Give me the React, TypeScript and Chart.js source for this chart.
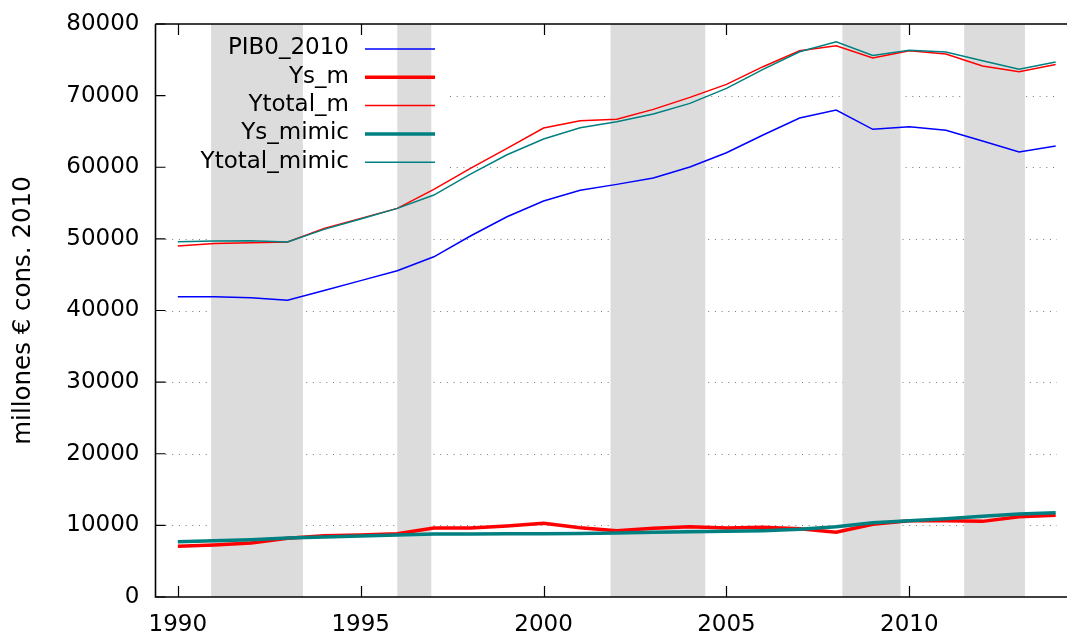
import React, { useEffect, useRef } from "react";
import { Chart, registerables } from "chart.js";

Chart.register(...registerables);

const years = [1990, 1991, 1992, 1993, 1994, 1995, 1996, 1997, 1998, 1999, 2000, 2001, 2002, 2003, 2004, 2005, 2006, 2007, 2008, 2009, 2010, 2011, 2012, 2013, 2014];

const pib0_2010 = [41920, 41920, 41780, 41420, 42800, 44170, 45550, 47500, 50400, 53090, 55280, 56780, 57610, 58490, 60030, 62030, 64500, 66870, 67990, 65290, 65660, 65150, 63660, 62120, 62960];
const ys_m = [7070, 7260, 7540, 8190, 8560, 8650, 8840, 9630, 9630, 9910, 10280, 9680, 9260, 9590, 9820, 9630, 9730, 9540, 9030, 10150, 10650, 10650, 10560, 11210, 11400];
const ytotal_m = [49000, 49370, 49460, 49560, 51470, 52860, 54260, 56920, 59850, 62640, 65470, 66490, 66690, 68080, 69760, 71570, 74040, 76270, 76960, 75250, 76270, 75800, 74130, 73340, 74360];
const ys_mimic = [7720, 7860, 8000, 8240, 8380, 8520, 8650, 8790, 8800, 8820, 8840, 8870, 8930, 9030, 9120, 9170, 9260, 9450, 9820, 10380, 10650, 10930, 11260, 11590, 11770];
const ytotal_mimic = [49600, 49700, 49740, 49560, 51330, 52770, 54260, 56120, 59050, 61750, 63940, 65520, 66360, 67430, 68920, 71010, 73670, 76130, 77520, 75620, 76320, 76080, 74870, 73670, 74690];

const seriesLabels = ["PIB0_2010", "Ys_m", "Ytotal_m", "Ys_mimic", "Ytotal_mimic"];

const shadeStart = [1990.91, 1996.0, 2001.83, 2008.17, 2011.5];
const shadeEnd = [1993.42, 1996.93, 2004.42, 2009.76, 2013.16];

const xTicks = [1990, 1995, 2000, 2005, 2010];
const yTicks = [0, 10000, 20000, 30000, 40000, 50000, 60000, 70000, 80000];

const FONT = "'DejaVu Sans', sans-serif";

const toPts = (vals: number[]) => vals.map((v, i) => ({ x: years[i], y: v }));

const gnuplotPlugin = {
  id: "gnuplotDecor",
  beforeDatasetsDraw(chart: any) {
    const { ctx, chartArea } = chart;
    const xs = chart.scales.x;
    const ys = chart.scales.y;
    ctx.save();
    // dotted grid
    ctx.strokeStyle = "#7a7a7a";
    ctx.lineWidth = 1;
    ctx.setLineDash([1, 5.7]);
    yTicks.forEach((t) => {
      if (t === 0 || t === 80000) return;
      const y = Math.round(ys.getPixelForValue(t)) + 0.5;
      let x0 = chartArea.left + 10;
      if (y < 185) x0 = 450;
      ctx.beginPath();
      ctx.moveTo(x0, y);
      ctx.lineTo(chartArea.right - 10, y);
      ctx.stroke();
    });
    ctx.setLineDash([]);
    // shaded regions
    ctx.fillStyle = "#dcdcdc";
    shadeStart.forEach((s, i) => {
      const x0 = xs.getPixelForValue(s);
      const x1 = xs.getPixelForValue(shadeEnd[i]);
      ctx.fillRect(x0, chartArea.top, x1 - x0, chartArea.bottom - chartArea.top);
    });
    ctx.restore();
  },
  afterDatasetsDraw(chart: any) {
    const { ctx, chartArea } = chart;
    const xs = chart.scales.x;
    const ys = chart.scales.y;
    ctx.save();
    ctx.strokeStyle = "#000";
    ctx.lineWidth = 1.6;
    ctx.beginPath();
    ctx.moveTo(chartArea.left, chartArea.top);
    ctx.lineTo(chartArea.left, chartArea.bottom);
    ctx.lineTo(chartArea.right, chartArea.bottom);
    ctx.moveTo(chartArea.left, chartArea.top);
    ctx.lineTo(chartArea.right, chartArea.top);
    ctx.stroke();
    ctx.lineWidth = 1.2;
    ctx.beginPath();
    yTicks.forEach((t) => {
      const y = ys.getPixelForValue(t);
      ctx.moveTo(chartArea.left, y);
      ctx.lineTo(chartArea.left + 10, y);
    });
    xTicks.forEach((t) => {
      const x = Math.round(xs.getPixelForValue(t)) + 0.5;
      ctx.moveTo(x, chartArea.bottom);
      ctx.lineTo(x, chartArea.bottom - 11);
      ctx.moveTo(x, chartArea.top);
      ctx.lineTo(x, chartArea.top + 11);
    });
    ctx.stroke();
    // legend
    ctx.font = `23px ${FONT}`;
    ctx.textAlign = "right";
    ctx.textBaseline = "middle";
    chart.data.datasets.forEach((ds: any, i: number) => {
      const y = 48.5 + i * 28.3;
      ctx.fillStyle = "#000";
      ctx.fillText(ds.label, 349, y);
      ctx.strokeStyle = ds.borderColor;
      ctx.lineWidth = ds.borderWidth;
      ctx.beginPath();
      ctx.moveTo(365, y + 0.5);
      ctx.lineTo(435, y + 0.5);
      ctx.stroke();
    });
    ctx.restore();
  },
};

export default function App() {
  const ref = useRef<HTMLCanvasElement | null>(null);
  useEffect(() => {
    if (!ref.current) return;
    const chart = new Chart(ref.current, {
      type: "line",
      data: {
        datasets: [
          { label: seriesLabels[0], data: toPts(pib0_2010), borderColor: "#0000ff", borderWidth: 1.5, order: 4 },
          { label: seriesLabels[1], data: toPts(ys_m), borderColor: "#ff0000", borderWidth: 3.5, order: 3 },
          { label: seriesLabels[2], data: toPts(ytotal_m), borderColor: "#ff0000", borderWidth: 1.5, order: 2 },
          { label: seriesLabels[3], data: toPts(ys_mimic), borderColor: "#008080", borderWidth: 3.5, order: 1 },
          { label: seriesLabels[4], data: toPts(ytotal_mimic), borderColor: "#008080", borderWidth: 1.5, order: 0 },
        ].map((d) => ({ ...d, pointRadius: 0, tension: 0, fill: false })),
      },
      options: {
        animation: false,
        responsive: false,
        devicePixelRatio: 1,
        layout: { padding: { top: 24, right: 0, left: 0, bottom: 0 } },
        plugins: { legend: { display: false }, tooltip: { enabled: false } },
        scales: {
          x: {
            type: "linear",
            min: 1989.39,
            max: 2014.31,
            grid: { display: false, drawTicks: false },
            border: { display: false },
            afterBuildTicks: (s: any) => {
              s.ticks = xTicks.map((v) => ({ value: v }));
            },
            afterFit: (s: any) => {
              s.height = 40;
              s.paddingLeft = 0;
              s.paddingRight = 0;
            },
            ticks: {
              padding: 14,
              maxRotation: 0,
              autoSkip: false,
              color: "#000",
              font: { family: FONT, size: 23 },
              callback: (v: any) => String(v),
            },
          },
          y: {
            type: "linear",
            min: 0,
            max: 80000,
            grid: { display: false, drawTicks: false },
            border: { display: false },
            afterBuildTicks: (s: any) => {
              s.ticks = yTicks.map((v) => ({ value: v }));
            },
            afterFit: (s: any) => {
              s.width = 155.5;
              s.paddingTop = 0;
              s.paddingBottom = 0;
            },
            title: {
              display: true,
              text: "millones € cons. 2010",
              color: "#000",
              font: { family: FONT, size: 24.5 },
              padding: { top: 9, bottom: 0 },
            },
            ticks: {
              padding: 16,
              color: "#000",
              font: { family: FONT, size: 23 },
              callback: (v: any) => String(v),
            },
          },
        },
      },
      plugins: [gnuplotPlugin],
    });
    return () => chart.destroy();
  }, []);
  return (
    <div style={{ position: "absolute", left: 0, top: 0, width: 1067, height: 637, background: "#fff" }}>
      <canvas ref={ref} width={1067} height={637} />
    </div>
  );
}
